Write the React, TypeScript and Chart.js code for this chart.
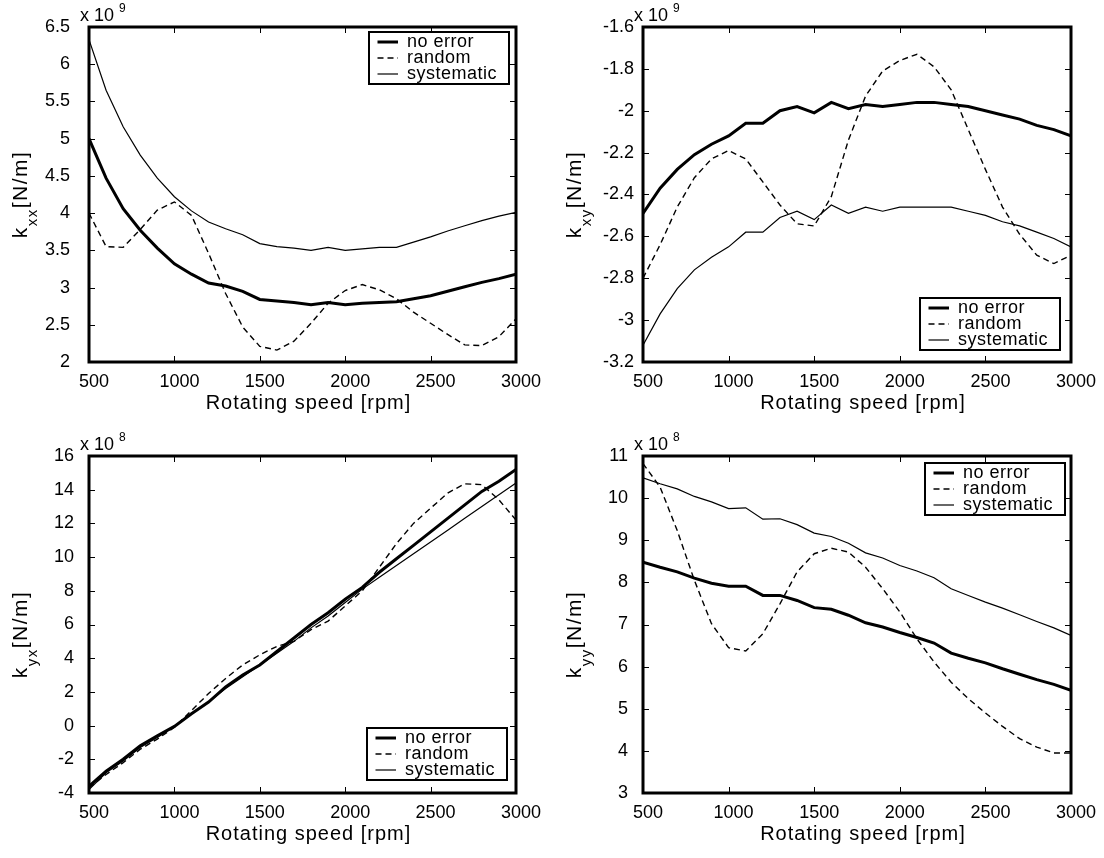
import React, { useEffect, useRef } from "react";
import { Chart, registerables } from "chart.js";

Chart.register(...registerables);

// ---------------- DATA ----------------
const speeds = [500, 600, 700, 800, 900, 1000, 1100, 1200, 1300, 1400, 1500, 1600, 1700, 1800, 1900, 2000, 2100, 2200, 2300, 2400, 2500, 2600, 2700, 2800, 2900, 3000];
const xTicks = [500, 1000, 1500, 2000, 2500, 3000];
const seriesNames = ["no error", "random", "systematic"];
const xTitle = "Rotating speed [rpm]";

// k_xx  (x 10^9 N/m)
const kxxNoError = [5.0, 4.47, 4.06, 3.77, 3.53, 3.32, 3.18, 3.06, 3.02, 2.95, 2.84, 2.82, 2.80, 2.77, 2.80, 2.77, 2.79, 2.80, 2.81, 2.85, 2.89, 2.95, 3.01, 3.07, 3.12, 3.18];
const kxxRandom = [4.0, 3.55, 3.54, 3.78, 4.04, 4.15, 3.97, 3.46, 2.92, 2.47, 2.21, 2.16, 2.28, 2.52, 2.79, 2.96, 3.04, 2.97, 2.85, 2.67, 2.52, 2.37, 2.23, 2.22, 2.34, 2.58];
const kxxSystematic = [6.33, 5.65, 5.16, 4.78, 4.47, 4.22, 4.03, 3.88, 3.79, 3.71, 3.59, 3.55, 3.53, 3.50, 3.54, 3.50, 3.52, 3.54, 3.54, 3.61, 3.68, 3.76, 3.83, 3.90, 3.96, 4.01];
const kxxTicks = [2, 2.5, 3, 3.5, 4, 4.5, 5, 5.5, 6, 6.5];

// k_xy  (x 10^9 N/m)
const kxyNoError = [-2.49, -2.37, -2.28, -2.21, -2.16, -2.12, -2.06, -2.06, -2.0, -1.98, -2.01, -1.96, -1.99, -1.97, -1.98, -1.97, -1.96, -1.96, -1.97, -1.98, -2.0, -2.02, -2.04, -2.07, -2.09, -2.12];
const kxyRandom = [-2.8, -2.64, -2.46, -2.32, -2.23, -2.19, -2.23, -2.34, -2.45, -2.54, -2.55, -2.41, -2.14, -1.93, -1.81, -1.76, -1.73, -1.79, -1.9, -2.09, -2.28, -2.46, -2.59, -2.69, -2.73, -2.69];
const kxySystematic = [-3.12, -2.97, -2.85, -2.76, -2.7, -2.65, -2.58, -2.58, -2.51, -2.48, -2.52, -2.45, -2.49, -2.46, -2.48, -2.46, -2.46, -2.46, -2.46, -2.48, -2.5, -2.53, -2.55, -2.58, -2.61, -2.65];
const kxyTicks = [-3.2, -3.0, -2.8, -2.6, -2.4, -2.2, -2.0, -1.8, -1.6];

// k_yx  (x 10^8 N/m)
const kyxNoError = [-3.6, -2.7, -2.0, -1.2, -0.6, -0.05, 0.7, 1.4, 2.3, 3.0, 3.6, 4.4, 5.2, 6.0, 6.7, 7.5, 8.2, 9.1, 9.9, 10.7, 11.5, 12.3, 13.1, 13.9, 14.5, 15.2];
const kyxRandom = [-3.7, -2.9, -2.2, -1.4, -0.8, -0.1, 0.9, 1.9, 2.8, 3.6, 4.2, 4.7, 5.0, 5.7, 6.2, 7.1, 8.0, 9.4, 10.8, 12.0, 12.9, 13.8, 14.35, 14.3, 13.4, 12.2];
const kyxSystematic = [-3.8, -2.8, -2.1, -1.3, -0.7, -0.05, 0.7, 1.4, 2.2, 2.9, 3.6, 4.3, 5.0, 5.8, 6.5, 7.3, 8.1, 8.8, 9.5, 10.2, 10.9, 11.6, 12.3, 13.0, 13.7, 14.4];
const kyxTicks = [-4, -2, 0, 2, 4, 6, 8, 10, 12, 14, 16];

// k_yy  (x 10^8 N/m)
const kyyNoError = [8.48, 8.36, 8.25, 8.1, 7.98, 7.91, 7.91, 7.69, 7.69, 7.57, 7.4, 7.36, 7.22, 7.04, 6.94, 6.81, 6.69, 6.56, 6.32, 6.2, 6.09, 5.95, 5.82, 5.69, 5.58, 5.44];
const kyyRandom = [10.82, 10.26, 9.23, 8.05, 7.02, 6.45, 6.37, 6.78, 7.49, 8.25, 8.68, 8.81, 8.72, 8.36, 7.85, 7.3, 6.66, 6.11, 5.63, 5.24, 4.9, 4.58, 4.29, 4.09, 3.95, 3.95];
const kyySystematic = [10.48, 10.34, 10.22, 10.04, 9.91, 9.75, 9.77, 9.5, 9.51, 9.37, 9.17, 9.09, 8.93, 8.7, 8.58, 8.4, 8.27, 8.11, 7.85, 7.69, 7.53, 7.39, 7.23, 7.07, 6.92, 6.74];
const kyyTicks = [3, 4, 5, 6, 7, 8, 9, 10, 11];

// ---------------- LAYOUT ----------------
const FONT = '"Liberation Sans", Arial, Helvetica, sans-serif';

type Panel = {
  key: string;
  canvas: { x: number; y: number; w: number; h: number };
  plot: { l: number; t: number; r: number; b: number };
  series: number[][];
  yTicks: number[];
  sub: string;
  exp: string;
  yPad: number;
  ylabDy: number;
  legend: { corner: "tr" | "br"; dx: number; dy: number };
};

const panels: Panel[] = [
  {
    key: "xx",
    canvas: { x: 0, y: 0, w: 552, h: 429 },
    plot: { l: 89, t: 27, r: 516, b: 362 },
    series: [kxxNoError, kxxRandom, kxxSystematic],
    yTicks: kxxTicks,
    sub: "xx",
    exp: "9",
    yPad: 19,
    ylabDy: 0,
    legend: { corner: "tr", dx: 7, dy: 5 },
  },
  {
    key: "xy",
    canvas: { x: 552, y: 0, w: 552, h: 429 },
    plot: { l: 643, t: 27, r: 1071, b: 362 },
    series: [kxyNoError, kxyRandom, kxySystematic],
    yTicks: kxyTicks,
    sub: "xy",
    exp: "9",
    yPad: 9,
    ylabDy: 0,
    legend: { corner: "br", dx: 11, dy: 12 },
  },
  {
    key: "yx",
    canvas: { x: 0, y: 429, w: 552, h: 429 },
    plot: { l: 89, t: 456, r: 516, b: 793 },
    series: [kyxNoError, kyxRandom, kyxSystematic],
    yTicks: kyxTicks,
    sub: "yx",
    exp: "8",
    yPad: 15,
    ylabDy: 10,
    legend: { corner: "br", dx: 9, dy: 13 },
  },
  {
    key: "yy",
    canvas: { x: 552, y: 429, w: 552, h: 429 },
    plot: { l: 643, t: 456, r: 1071, b: 793 },
    series: [kyyNoError, kyyRandom, kyySystematic],
    yTicks: kyyTicks,
    sub: "yy",
    exp: "8",
    yPad: 15,
    ylabDy: 10,
    legend: { corner: "tr", dx: 6, dy: 7 },
  },
];

const lineStyles = [
  { borderWidth: 3, borderDash: [] as number[] },
  { borderWidth: 1.4, borderDash: [6, 4] },
  { borderWidth: 1.2, borderDash: [] as number[] },
];

function decoPlugin(p: Panel) {
  return {
    id: "deco" + p.key,
    afterDatasetsDraw(chart: any) {
      const ctx = chart.ctx as CanvasRenderingContext2D;
      const a = chart.chartArea;
      const xs = chart.scales.x;
      const ys = chart.scales.y;
      ctx.save();
      ctx.strokeStyle = "#000";
      ctx.setLineDash([]);
      ctx.lineWidth = 1;
      ctx.beginPath();
      xs.ticks.forEach((t: any) => {
        const px = Math.round(xs.getPixelForValue(t.value)) + 0.5;
        ctx.moveTo(px, a.bottom);
        ctx.lineTo(px, a.bottom - 6);
        ctx.moveTo(px, a.top);
        ctx.lineTo(px, a.top + 6);
      });
      ys.ticks.forEach((t: any) => {
        const py = Math.round(ys.getPixelForValue(t.value)) + 0.5;
        ctx.moveTo(a.left, py);
        ctx.lineTo(a.left + 6, py);
        ctx.moveTo(a.right, py);
        ctx.lineTo(a.right - 6, py);
      });
      ctx.stroke();
      ctx.lineWidth = 3;
      ctx.strokeRect(a.left, a.top, a.right - a.left, a.bottom - a.top);

      // legend
      const W = 140;
      const H = 52;
      const lx = a.right - p.legend.dx - W;
      const ly = p.legend.corner === "tr" ? a.top + p.legend.dy : a.bottom - p.legend.dy - H;
      ctx.fillStyle = "#fff";
      ctx.fillRect(lx, ly, W, H);
      ctx.lineWidth = 2;
      ctx.strokeRect(lx, ly, W, H);
      ctx.font = `18px ${FONT}`;
      (ctx as any).letterSpacing = "0.5px";
      ctx.textBaseline = "alphabetic";
      ctx.textAlign = "left";
      ctx.fillStyle = "#000";
      chart.data.datasets.forEach((ds: any, i: number) => {
        const ry = ly + 10 + i * 16;
        ctx.beginPath();
        ctx.lineWidth = ds.borderWidth;
        ctx.setLineDash(ds.borderDash || []);
        ctx.moveTo(lx + 8.5, ry);
        ctx.lineTo(lx + 29, ry);
        ctx.stroke();
        ctx.setLineDash([]);
        ctx.fillText(ds.label, lx + 38, ry + 5);
      });
      ctx.restore();
    },
    afterDraw(chart: any) {
      const ctx = chart.ctx as CanvasRenderingContext2D;
      const a = chart.chartArea;
      ctx.save();
      ctx.fillStyle = "#000";
      ctx.textBaseline = "alphabetic";
      // exponent label
      ctx.textAlign = "left";
      ctx.font = `18px ${FONT}`;
      const base = "x 10";
      ctx.fillText(base, a.left - 9, a.top - 6);
      const bw = ctx.measureText(base).width;
      ctx.font = `12px ${FONT}`;
      ctx.fillText(p.exp, a.left - 9 + bw + 5, a.top - 15);

      // x title
      ctx.font = `20px ${FONT}`;
      (ctx as any).letterSpacing = "1px";
      ctx.textAlign = "center";
      ctx.fillText(xTitle, (a.left + a.right) / 2 + 6, a.bottom + 47);

      // y title (rotated, with subscript)
      ctx.textAlign = "left";
      (ctx as any).letterSpacing = "1.5px";
      ctx.translate(a.left - 62, (a.top + a.bottom) / 2 + p.ylabDy);
      ctx.rotate(-Math.PI / 2);
      const fMain = `21px ${FONT}`;
      const fSub = `15px ${FONT}`;
      ctx.font = fMain;
      const w1 = ctx.measureText("k").width;
      const w3 = ctx.measureText("[N/m]").width;
      ctx.font = fSub;
      const w2 = ctx.measureText(p.sub).width;
      let x = -(w1 + w2 + w3) / 2;
      ctx.font = fMain;
      ctx.fillText("k", x, 0);
      x += w1;
      ctx.font = fSub;
      ctx.fillText(p.sub, x, 10);
      x += w2;
      ctx.font = fMain;
      ctx.fillText("[N/m]", x, 0);
      ctx.restore();
    },
  };
}

function makeConfig(p: Panel): any {
  const yWidth = p.plot.l - p.canvas.x;
  const padTop = p.plot.t - p.canvas.y;
  const padRight = p.canvas.x + p.canvas.w - p.plot.r;
  const xHeight = 30;
  const padBottom = p.canvas.y + p.canvas.h - p.plot.b - xHeight;
  return {
    type: "line",
    data: {
      datasets: p.series.map((vals, i) => ({
        label: seriesNames[i],
        data: speeds.map((s, j) => ({ x: s, y: vals[j] })),
        borderColor: "#000",
        backgroundColor: "#000",
        borderWidth: lineStyles[i].borderWidth,
        borderDash: lineStyles[i].borderDash,
        pointRadius: 0,
        tension: 0,
        fill: false,
      })),
    },
    options: {
      responsive: false,
      animation: false,
      devicePixelRatio: 1,
      events: [],
      layout: { padding: { left: 0, top: padTop, right: padRight, bottom: padBottom } },
      plugins: { legend: { display: false }, tooltip: { enabled: false } },
      scales: {
        x: {
          type: "linear",
          min: xTicks[0],
          max: xTicks[xTicks.length - 1],
          grid: { display: false, drawTicks: false },
          border: { display: false },
          ticks: {
            color: "#000",
            font: { family: FONT, size: 18 },
            padding: 9,
            labelOffset: 5,
            maxRotation: 0,
            autoSkip: false,
            callback: (v: number) => String(v),
          },
          afterBuildTicks: (s: any) => {
            s.ticks = xTicks.map((v) => ({ value: v }));
          },
          afterFit: (s: any) => {
            s.height = xHeight;
            s.paddingLeft = 0;
            s.paddingRight = 0;
          },
        },
        y: {
          type: "linear",
          min: p.yTicks[0],
          max: p.yTicks[p.yTicks.length - 1],
          grid: { display: false, drawTicks: false },
          border: { display: false },
          ticks: {
            color: "#000",
            font: { family: FONT, size: 18 },
            padding: p.yPad,
            autoSkip: false,
            callback: (v: number) => String(Math.round(v * 10) / 10),
          },
          afterBuildTicks: (s: any) => {
            s.ticks = p.yTicks.map((v) => ({ value: v }));
          },
          afterFit: (s: any) => {
            s.width = yWidth;
            s.paddingTop = 0;
            s.paddingBottom = 0;
          },
        },
      },
    },
    plugins: [decoPlugin(p)],
  };
}

function PanelChart({ panel }: { panel: Panel }) {
  const ref = useRef<HTMLCanvasElement | null>(null);
  useEffect(() => {
    const canvas = ref.current;
    if (!canvas) return;
    const chart = new Chart(canvas, makeConfig(panel));
    return () => chart.destroy();
  }, [panel]);
  return (
    <canvas
      ref={ref}
      width={panel.canvas.w}
      height={panel.canvas.h}
      style={{
        position: "absolute",
        left: panel.canvas.x,
        top: panel.canvas.y,
        width: panel.canvas.w,
        height: panel.canvas.h,
      }}
    />
  );
}

export default function App() {
  return (
    <div
      style={{
        position: "absolute",
        left: 0,
        top: 0,
        width: 1104,
        height: 858,
        background: "#fff",
        overflow: "hidden",
      }}
    >
      {panels.map((p) => (
        <PanelChart key={p.key} panel={p} />
      ))}
    </div>
  );
}
